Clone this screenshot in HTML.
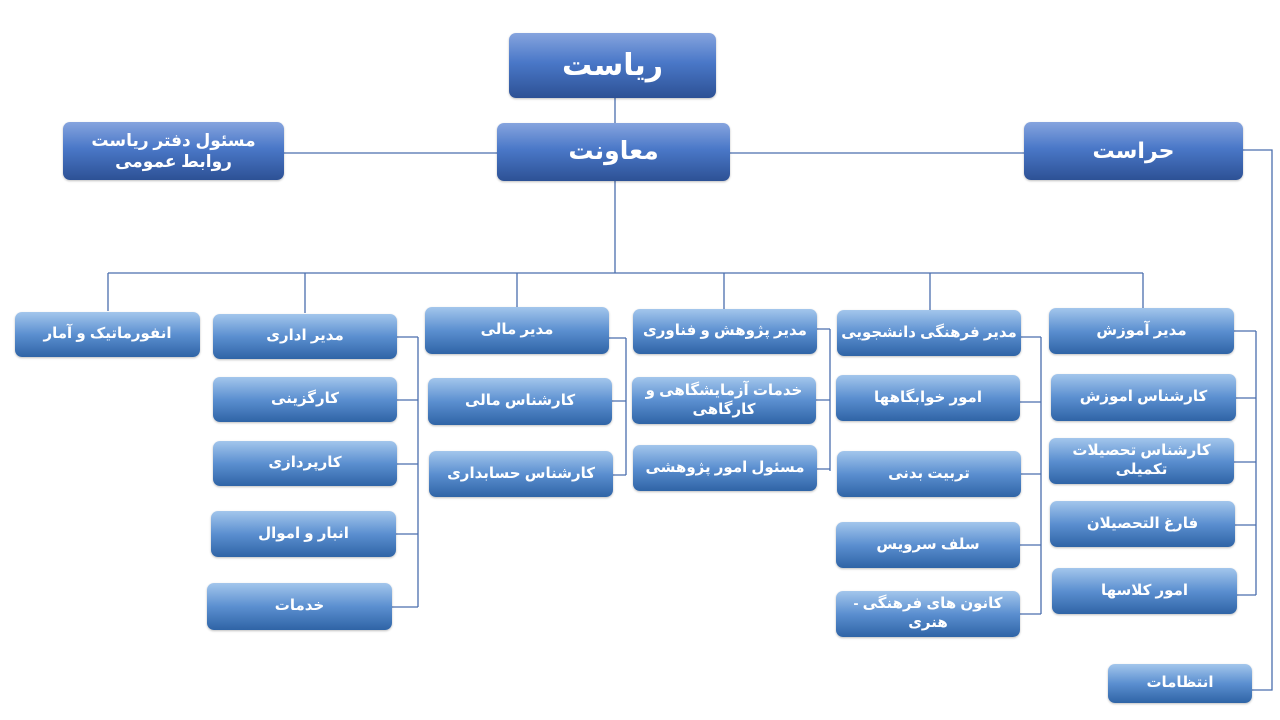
<!DOCTYPE html>
<html><head><meta charset="utf-8"><style>
body{margin:0;width:1280px;height:720px;background:#fff;position:relative;overflow:hidden;font-family:"Liberation Sans","DejaVu Sans",sans-serif;}
.b{position:absolute;border-radius:7px;color:#fff;display:flex;align-items:center;justify-content:center;text-align:center;direction:rtl;font-weight:bold;line-height:1.25;box-shadow:0 1px 2px rgba(0,0,0,.25);}
.d{background:linear-gradient(#86a4de,#4a78c8 45%,#2d5195);font-size:18px;}
.l{background:linear-gradient(#a3c6ec,#5b8fd0 50%,#2f64a6);font-size:15px;}
svg{position:absolute;left:0;top:0}
</style></head><body>
<svg width="1280" height="720" stroke="#4a6eae" stroke-width="1.3" fill="none">
<path d="M615 98V123M284 153H497M730 153H1024M1243 150H1272V690H1252"/>
<path d="M615 181V273M108 273H1143M108 273V311M305 273V313M517 273V307M724 273V309M930 273V311M1143 273V309"/>
<path d="M418 337V607M397 337H418M397 400H418M397 464H418M396 534H418M392 607H418"/>
<path d="M626 338V475M609 338H626M612 401H626M613 475H626"/>
<path d="M830 329V471M812 329H830M816 400H830M817 469H830"/>
<path d="M1041 337V614M1021 337H1041M1020 402H1041M1021 474H1041M1020 545H1041M1020 614H1041"/>
<path d="M1256 331V595M1234 331H1256M1236 398H1256M1234 462H1256M1235 525H1256M1237 595H1256"/>
</svg>
<div class="b d" style="left:509px;top:33px;width:207px;height:65px;font-size:30px">ریاست</div>
<div class="b d" style="left:497px;top:123px;width:233px;height:58px;font-size:25px">معاونت</div>
<div class="b d" style="left:63px;top:122px;width:221px;height:58px;font-size:17px">مسئول دفتر ریاست<br>روابط عمومی</div>
<div class="b d" style="left:1024px;top:122px;width:219px;height:58px;font-size:22px">حراست</div>

<div class="b l" style="left:15px;top:312px;width:185px;height:45px">انفورماتیک و آمار</div>
<div class="b l" style="left:213px;top:314px;width:184px;height:45px">مدیر اداری</div>
<div class="b l" style="left:213px;top:377px;width:184px;height:45px">کارگزینی</div>
<div class="b l" style="left:213px;top:441px;width:184px;height:45px">کارپردازی</div>
<div class="b l" style="left:211px;top:511px;width:185px;height:46px">انبار و اموال</div>
<div class="b l" style="left:207px;top:583px;width:185px;height:47px">خدمات</div>

<div class="b l" style="left:425px;top:307px;width:184px;height:47px">مدیر مالی</div>
<div class="b l" style="left:428px;top:378px;width:184px;height:47px">کارشناس مالی</div>
<div class="b l" style="left:429px;top:451px;width:184px;height:46px">کارشناس حسابداری</div>

<div class="b l" style="left:633px;top:309px;width:184px;height:45px">مدیر پژوهش و فناوری</div>
<div class="b l" style="left:632px;top:377px;width:184px;height:47px">خدمات آزمایشگاهی و<br>کارگاهی</div>
<div class="b l" style="left:633px;top:445px;width:184px;height:46px">مسئول امور پژوهشی</div>

<div class="b l" style="left:837px;top:310px;width:184px;height:46px">مدیر فرهنگی دانشجویی</div>
<div class="b l" style="left:836px;top:375px;width:184px;height:46px">امور خوابگاهها</div>
<div class="b l" style="left:837px;top:451px;width:184px;height:46px">تربیت بدنی</div>
<div class="b l" style="left:836px;top:522px;width:184px;height:46px">سلف سرویس</div>
<div class="b l" style="left:836px;top:591px;width:184px;height:46px">کانون های فرهنگی -<br>هنری</div>

<div class="b l" style="left:1049px;top:308px;width:185px;height:46px">مدیر آموزش</div>
<div class="b l" style="left:1051px;top:374px;width:185px;height:47px">کارشناس اموزش</div>
<div class="b l" style="left:1049px;top:438px;width:185px;height:46px">کارشناس تحصیلات<br>تکمیلی</div>
<div class="b l" style="left:1050px;top:501px;width:185px;height:46px">فارغ التحصیلان</div>
<div class="b l" style="left:1052px;top:568px;width:185px;height:46px">امور کلاسها</div>
<div class="b l" style="left:1108px;top:664px;width:144px;height:39px">انتظامات</div>
</body></html>
